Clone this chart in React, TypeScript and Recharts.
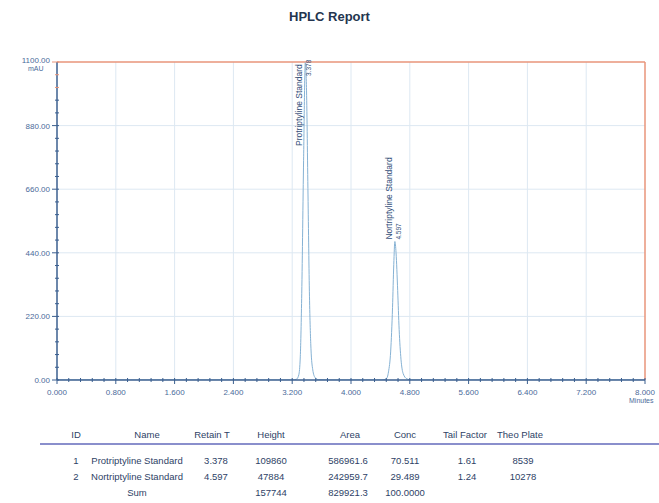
import React from 'react';
import {
  LineChart,
  Line,
  XAxis,
  YAxis,
  CartesianGrid,
  ReferenceLine,
  ReferenceDot,
} from 'recharts';

// trace (minutes, mAU)
const times = [
  0, 1.0, 2.0, 3.0, 3.2, 3.26, 3.29, 3.31, 3.33, 3.355, 3.378, 3.395, 3.415, 3.435, 3.455, 3.48, 3.51, 3.56,
  3.7, 4.2, 4.42, 4.48, 4.51, 4.54, 4.565, 4.582, 4.597, 4.613, 4.635, 4.655, 4.68, 4.71, 4.76, 4.82, 5.5, 6.5, 7.5, 8.0,
];
const absorbance = [
  0, 0, 0, 0, 0, 3, 18, 80, 300, 760, 1098, 1000, 640, 290, 110, 35, 9, 1,
  0, 0, 0, 4, 28, 100, 250, 400, 479, 440, 310, 175, 72, 22, 4, 0, 0, 0, 0, 0,
];

const xMajor = ['0.000', '0.800', '1.600', '2.400', '3.200', '4.000', '4.800', '5.600', '6.400', '7.200', '8.000'];
const yMajor = ['0.00', '220.00', '440.00', '660.00', '880.00', '1100.00'];

// peaks
const peakNames = ['Protriptyline Standard', 'Nortriptyline Standard'];
const retTimes = [3.378, 4.597];
const heights = [109860, 47884];
const areas = ['586961.6', '242959.7'];
const concs = ['70.511', '29.489'];
const tailFactors = ['1.61', '1.24'];
const plates = ['8539', '10278'];
const sums = { height: '157744', area: '829921.3', conc: '100.0000' };

const xMinor = Array.from({ length: 51 }, (_, i) => +(i * 0.16).toFixed(2));
const yMinor = Array.from({ length: 26 }, (_, i) => i * 44);

const data = times.map((t, i) => ({ t, v: absorbance[i] }));

const AXIS = '#3b5f8f';
const TICKTXT = '#4a6a9a';
const FONT = '"Liberation Sans", Arial, sans-serif';

const isMajor = (v: number, step: number) => Math.abs(v / step - Math.round(v / step)) < 1e-6;

const XTick = ({ x, y, payload }: any) => {
  const idx = Math.round(payload.value / 0.8);
  const major = isMajor(payload.value, 0.8);
  return (
    <g>
      <line x1={x} x2={x} y1={y - 2} y2={y + (major ? 4 : 2)} stroke={AXIS} strokeWidth={1} />
      {major && (
        <text x={x} y={y + 15} textAnchor="middle" fontSize={8} fill={TICKTXT} fontFamily={FONT}>
          {xMajor[idx]}
        </text>
      )}
    </g>
  );
};

const YTick = ({ x, y, payload }: any) => {
  const idx = Math.round(payload.value / 220);
  const major = isMajor(payload.value, 220);
  const top = idx === yMajor.length - 1;
  return (
    <g>
      <line x1={x - (major ? 5 : 2)} x2={x + 2} y1={y} y2={y} stroke={top ? '#e8957a' : AXIS} strokeWidth={1} />
      {major && (
        <text x={x - 7} y={y + (top ? 1 : 3)} textAnchor="end" fontSize={8} fill={TICKTXT} fontFamily={FONT}>
          {yMajor[idx]}
        </text>
      )}
    </g>
  );
};

const PeakLabel = (name: string, rt: number) => (p: any) => {
  const { cx, cy } = p;
  const top = 62;
  const nameY = Math.max(cy - 2, top + 84);
  const rtY = Math.max(cy - 2, top + 14);
  return (
    <g>
      <text
        x={cx - 3}
        y={nameY}
        transform={`rotate(-90 ${cx - 3} ${nameY})`}
        fontSize={8.5}
        fill="#34507a"
        fontFamily={FONT}
      >
        {name}
      </text>
      <text
        x={cx + 6}
        y={rtY}
        transform={`rotate(-90 ${cx + 6} ${rtY})`}
        fontSize={6.5}
        fill="#34507a"
        fontFamily={FONT}
      >
        {rt.toFixed(3)}
      </text>
    </g>
  );
};

const cell = (x: number, y: number, text: string) => (
  <div
    style={{
      position: 'absolute',
      left: x - 70,
      top: y - 6,
      width: 140,
      textAlign: 'center',
      fontSize: 9.5,
      lineHeight: '12px',
      color: '#2e3f66',
      fontFamily: FONT,
      whiteSpace: 'nowrap',
    }}
  >
    {text}
  </div>
);

const colX = { id: 76, name: 137, rt: 216, height: 271, area: 348, conc: 405, tail: 467, plate: 523 };
const rowY = [461, 477, 493];

export default function App() {
  return (
    <div style={{ position: 'absolute', left: 0, top: 0, width: 659, height: 503, background: '#fff', overflow: 'hidden' }}>
      <div
        style={{
          position: 'absolute',
          left: 0,
          top: 9,
          width: 659,
          textAlign: 'center',
          fontFamily: FONT,
          fontWeight: 'bold',
          fontSize: 13,
          color: '#24354f',
        }}
      >
        HPLC Report
      </div>

      <div style={{ position: 'absolute', left: 0, top: 0 }}>
        <LineChart width={659} height={420} data={data} margin={{ top: 62, right: 14, left: 0, bottom: 10 }}>
          <CartesianGrid
            stroke="#dde8f2"
            horizontalValues={[220, 440, 660, 880]}
            verticalValues={[0.8, 1.6, 2.4, 3.2, 4.0, 4.8, 5.6, 6.4, 7.2]}
          />
          <XAxis
            dataKey="t"
            type="number"
            domain={[0, 8]}
            ticks={xMinor}
            interval={0}
            tick={<XTick />}
            tickLine={false}
            tickSize={0}
            tickMargin={0}
            axisLine={{ stroke: AXIS, strokeWidth: 1.5 }}
            height={30}
          />
          <YAxis
            type="number"
            domain={[0, 1100]}
            ticks={yMinor}
            interval={0}
            allowDataOverflow
            tick={<YTick />}
            tickLine={false}
            tickSize={0}
            tickMargin={0}
            axisLine={{ stroke: AXIS, strokeWidth: 1.5 }}
            width={57}
          />
          <ReferenceLine y={1100} stroke="#e8957a" strokeWidth={1.5} />
          <ReferenceLine x={8} stroke="#e8957a" strokeWidth={1.5} />
          <Line
            type="monotone"
            dataKey="v"
            stroke="#86b2d4"
            strokeWidth={1}
            dot={false}
            isAnimationActive={false}
          />
          {retTimes.map((rt, i) => (
            <ReferenceDot
              key={rt}
              x={rt}
              y={Math.min(heights[i] / 100, 1100)}
              r={0}
              shape={PeakLabel(peakNames[i], rt)}
            />
          ))}
        </LineChart>
      </div>

      <div style={{ position: 'absolute', left: 28, top: 65, fontSize: 7, color: TICKTXT, fontFamily: FONT }}>mAU</div>
      <div style={{ position: 'absolute', left: 629, top: 397, fontSize: 7, color: TICKTXT, fontFamily: FONT }}>Minutes</div>

      {cell(colX.id, 435, 'ID')}
      {cell(colX.name + 10, 435, 'Name')}
      {cell(colX.rt - 4, 435, 'Retain T')}
      {cell(colX.height, 435, 'Height')}
      {cell(colX.area + 2, 435, 'Area')}
      {cell(colX.conc, 435, 'Conc')}
      {cell(colX.tail - 2, 435, 'Tail Factor')}
      {cell(colX.plate - 3, 435, 'Theo Plate')}
      <div style={{ position: 'absolute', left: 40, top: 443, width: 619, height: 2, background: '#8a8fcc' }} />

      {peakNames.map((n, i) => (
        <React.Fragment key={n}>
          {cell(colX.id, rowY[i], String(i + 1))}
          {cell(colX.name, rowY[i], n)}
          {cell(colX.rt, rowY[i], retTimes[i].toFixed(3))}
          {cell(colX.height, rowY[i], String(heights[i]))}
          {cell(colX.area, rowY[i], areas[i])}
          {cell(colX.conc, rowY[i], concs[i])}
          {cell(colX.tail, rowY[i], tailFactors[i])}
          {cell(colX.plate, rowY[i], plates[i])}
        </React.Fragment>
      ))}
      {cell(colX.name, rowY[2], 'Sum')}
      {cell(colX.height, rowY[2], sums.height)}
      {cell(colX.area, rowY[2], sums.area)}
      {cell(colX.conc, rowY[2], sums.conc)}
    </div>
  );
}
